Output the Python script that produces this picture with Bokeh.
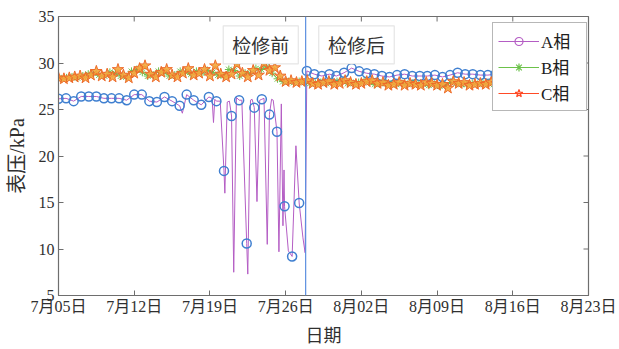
import math
from bokeh.plotting import figure
from bokeh.models import (Range1d, FixedTicker, Span, BoxAnnotation,
                          Label, Legend, LegendItem, ColumnDataSource)
from bokeh.embed import file_html
from bokeh.resources import INLINE

# ---------------- data (days since 7月05日) ----------------
x_ticks = [0, 7, 14, 21, 28, 35, 42, 49]
x_tick_labels = ["7月05日", "7月12日", "7月19日", "7月26日", "8月02日", "8月09日", "8月16日", "8月23日"]
y_ticks = [5, 10, 15, 20, 25, 30, 35]

# A phase: marked samples (circles)
a_mark_days = [0.0, 0.7, 1.4, 2.1, 2.8, 3.5, 4.2, 4.9, 5.6, 6.3, 7.0, 7.7, 8.4, 9.1, 9.8,
               10.5, 11.2, 11.85, 12.5, 13.2, 13.9, 14.6, 15.3, 16.0, 16.7, 17.4, 18.1,
               18.8, 19.5, 20.2, 20.9, 21.6, 22.25,
               22.96, 23.65, 24.35, 25.05, 25.7, 26.4, 27.1, 27.8, 28.5, 29.2, 29.9, 30.6,
               31.3, 32.0, 32.7, 33.4, 34.1, 34.8, 35.5, 36.2, 36.9, 37.6, 38.3, 39.0,
               39.7, 40.4, 41.1]
a_mark_vals = [26.15, 26.2, 25.9, 26.4, 26.4, 26.4, 26.2, 26.2, 26.2, 26.0, 26.6, 26.6, 25.9,
               25.8, 26.35, 25.9, 25.4, 26.6, 26.0, 25.5, 26.35, 25.9, 18.4, 24.3, 26.0, 10.6,
               25.2, 26.1, 24.45, 22.6, 14.6, 9.2, 14.95,
               29.15, 28.8, 28.6, 28.8, 28.6, 28.95, 29.45, 29.1, 28.9, 28.8, 28.6, 28.5,
               28.7, 28.8, 28.6, 28.6, 28.6, 28.7, 28.5, 28.7, 28.95, 28.8, 28.8, 28.7,
               28.7, 28.8, 28.7]
# A phase: unmarked samples between the circles
a_extra_days = [11.45, 14.2, 14.33, 14.45, 14.95, 15.38, 15.6, 15.8, 16.2, 16.45, 16.95,
                17.5, 17.75, 17.9, 18.35, 18.6, 19.0, 19.3, 19.7, 19.85, 20.38, 20.6,
                20.75, 20.85, 21.25, 21.95, 22.6, 22.8]
a_extra_vals = [24.6, 26.2, 23.6, 26.1, 25.9, 16.0, 25.8, 25.9, 7.5, 26.3, 26.0,
                7.3, 26.0, 26.1, 15.1, 26.0, 26.2, 10.5, 26.1, 26.0, 9.7, 25.6,
                12.5, 18.5, 9.8, 21.1, 11.2, 9.6]

# B phase (every 12 h starting 06:00)
b_vals = [28.3, 28.4, 28.5, 28.4, 28.6, 28.8, 28.9, 28.7, 28.6, 29.0, 28.9, 28.6, 28.5,
          29.1, 29.3, 29.0, 28.6, 28.7, 29.1, 29.0, 28.6, 28.7, 29.1, 29.0, 28.8, 29.1,
          28.9, 29.2, 29.0, 28.7, 28.6, 29.3, 29.2, 28.6, 28.9, 28.9, 29.4, 29.3, 29.6,
          28.9, 28.3, 28.0, 28.0, 27.9, 28.0, 27.9, 27.8, 27.8, 27.9, 27.8, 27.9, 28.0,
          28.0, 27.8, 27.8, 27.9, 28.0, 27.9, 27.7, 27.8, 27.8, 27.7, 27.7, 27.8, 27.7,
          27.8, 27.7, 27.7, 27.6, 27.7, 27.5, 27.6, 27.9, 27.8, 27.7, 27.7, 27.8, 27.7,
          27.8, 27.8, 27.7, 27.8]
# C phase (every 12 h starting 00:00)
c_vals = [28.4, 28.3, 28.4, 28.5, 28.6, 28.4, 28.7, 29.1, 28.6, 28.8, 28.5, 29.3, 28.7,
          28.4, 28.9, 29.4, 29.7, 28.8, 28.5, 29.0, 29.3, 28.7, 28.5, 28.9, 29.4, 28.7,
          28.9, 29.3, 28.6, 29.7, 28.8, 28.5, 28.8, 29.9, 28.9, 28.5, 29.2, 28.7, 30.0,
          29.2, 29.5, 28.6, 28.0, 28.1, 27.9, 28.0, 28.1, 27.8, 27.7, 27.9, 28.0, 27.7,
          27.8, 28.1, 27.9, 27.7, 27.8, 28.0, 28.1, 27.8, 27.9, 27.6, 27.7, 27.9, 27.6,
          27.8, 27.7, 27.6, 27.9, 27.8, 27.6, 27.7, 27.3, 28.0, 27.8, 27.9, 27.6, 27.7,
          27.8, 27.7, 27.9, 27.8, 27.7]
sample_step = 0.5
b_offset = 0.25
maintenance_day = 22.85
notes = ["检修前", "检修后"]
note_days = [18.7, 27.55]

# ---------------- derived sources ----------------
a_pts = sorted(zip(a_mark_days + a_extra_days, a_mark_vals + a_extra_vals))
a_line = ColumnDataSource(dict(x=[d for d, _ in a_pts], y=[v for _, v in a_pts]))
a_mark = ColumnDataSource(dict(x=a_mark_days, y=a_mark_vals))
b_src = ColumnDataSource(dict(x=[b_offset + i * sample_step for i in range(len(b_vals))], y=b_vals))
c_src = ColumnDataSource(dict(x=[i * sample_step for i in range(len(c_vals))], y=c_vals))

SERIF = "Liberation Serif, Noto Sans CJK SC"
CJK = "Noto Sans CJK SC"
FRAME = "#6e6e6e"
PURPLE = "#b45dc4"
BLUE = "#3f7fd0"
GREEN = "#6cc24a"
RED = "#ff4a26"

x_lo, x_hi = x_ticks[0], x_ticks[-1]
y_lo, y_hi = y_ticks[0], y_ticks[-1]

p = figure(width=619, height=349, output_backend="svg", toolbar_location=None,
           x_range=Range1d(x_lo, x_hi), y_range=Range1d(y_lo, y_hi),
           min_border_left=58, min_border_right=31, min_border_top=16, min_border_bottom=50)
p.grid.visible = False
p.outline_line_color = FRAME
p.outline_line_width = 1.2
p.background_fill_color = "white"

# axes
for ax in (p.xaxis[0], p.yaxis[0]):
    ax.axis_line_color = FRAME
    ax.major_tick_line_color = FRAME
    ax.major_tick_in = 5
    ax.major_tick_out = 0
    ax.minor_tick_line_color = None
    ax.major_label_text_font = SERIF
    ax.major_label_text_font_size = "16px"
    ax.major_label_text_color = "#303030"
    ax.axis_label_text_font = CJK
    ax.axis_label_text_font_style = "normal"
    ax.axis_label_text_color = "#303030"

p.xaxis.ticker = FixedTicker(ticks=x_ticks)
p.xaxis.major_label_overrides = {t: lab for t, lab in zip(x_ticks, x_tick_labels)}
p.xaxis.major_label_standoff = 2
p.xaxis.axis_label = "日期"
p.xaxis.axis_label_standoff = 3
p.xaxis.axis_label_text_font_size = "18px"
p.yaxis.ticker = FixedTicker(ticks=y_ticks)
p.yaxis.major_label_standoff = 4
p.yaxis.axis_label = "表压/kPa"
p.yaxis.axis_label_text_font = SERIF
p.yaxis.axis_label_text_font_size = "20px"
p.yaxis.axis_label_standoff = 8

# mirrored inward ticks on the top and right frame edges
p.ray(x=x_ticks, y=[y_hi] * len(x_ticks), length=5, length_units="screen",
      angle=-math.pi / 2, line_color=FRAME, line_width=1)
p.ray(x=[x_hi] * len(y_ticks), y=y_ticks, length=5, length_units="screen",
      angle=math.pi, line_color=FRAME, line_width=1)

# series
a_l = p.line("x", "y", source=a_line, line_color=PURPLE, line_width=1)
p.scatter("x", "y", source=a_mark, marker="circle", size=9, fill_color=None,
          line_color=BLUE, line_width=1.5)
b_l = p.line("x", "y", source=b_src, line_color=GREEN, line_width=1)
p.scatter("x", "y", source=b_src, marker="asterisk", size=8, line_color=GREEN, line_width=1)
c_l = p.line("x", "y", source=c_src, line_color=RED, line_width=1)
p.scatter("x", "y", source=c_src, marker="star", size=12, fill_color="#f2a83c",
          fill_alpha=0.9, line_color="#ee6a2a", line_width=1)

# legend glyph stand-ins (outside visible range)
dummy = ColumnDataSource(dict(x=[-100], y=[-100]))
a_lm = p.scatter("x", "y", source=dummy, marker="circle", size=9, fill_color=None,
                 line_color=PURPLE, line_width=1.2)
b_lm = p.scatter("x", "y", source=dummy, marker="asterisk", size=9, line_color=GREEN,
                 line_width=1.2)
c_lm = p.scatter("x", "y", source=dummy, marker="star", size=11, fill_color=None,
                 line_color=RED, line_width=1.2)

# maintenance marker
p.add_layout(Span(location=maintenance_day, dimension="height", line_color="#5b8fe0",
                  line_width=1.2))

# note boxes
box_half = [3.47, 3.49]
for txt, d, hw in zip(notes, note_days, box_half):
    p.add_layout(BoxAnnotation(left=d - hw, right=d + hw, bottom=29.9, top=34.0,
                               fill_color="white", fill_alpha=1.0,
                               line_color="#a8a8a8", line_width=1.2))
    p.add_layout(Label(x=d, y=31.95, text=txt, text_align="center", text_baseline="middle",
                       text_font=CJK, text_font_size="19px", text_color="#333333"))

legend = Legend(items=[LegendItem(label="A相", renderers=[a_l, a_lm]),
                       LegendItem(label="B相", renderers=[b_l, b_lm]),
                       LegendItem(label="C相", renderers=[c_l, c_lm])],
                location=(434, 184), glyph_width=41, glyph_height=20, label_standoff=2,
                padding=5, spacing=1, label_height=20, label_width=40, margin=0,
                label_text_font=SERIF, label_text_font_size="17px",
                label_text_color="#202020", border_line_color="#707070",
                border_line_width=1.5, background_fill_alpha=1.0)
p.add_layout(legend)

open("out.html", "w").write(file_html(p, INLINE))
